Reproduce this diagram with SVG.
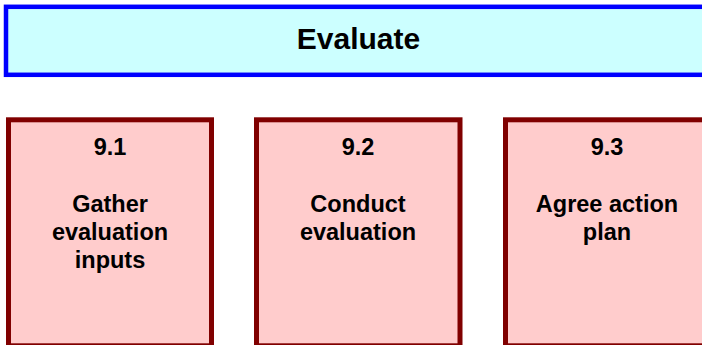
<svg xmlns="http://www.w3.org/2000/svg" width="702" height="345" viewBox="0 0 702 345">
<style>
.t{font-family:"Liberation Sans",Arial,sans-serif;font-weight:bold;fill:#000;text-anchor:middle}
.box{fill:#ffcccc;stroke:#800000;stroke-width:5}
.hd{fill:#ccffff;stroke:#0000ff;stroke-width:4.5}
</style>
<rect width="702" height="345" fill="#ffffff"/>
<g id="evaluate">
<rect class="hd" x="6" y="6.8" width="710" height="68"/>
<text class="t" x="358.5" y="49.3" font-size="30">Evaluate</text>
</g>
<g id="connectors"></g>
<g id="n91">
<rect class="box" x="8.5" y="119.8" width="203" height="226"/>
<text class="t" x="110" y="155" font-size="23.5">9.1</text>
<text class="t" x="110" font-size="23.5"><tspan x="110" y="212">Gather</tspan><tspan x="110" y="240">evaluation</tspan><tspan x="110" y="267.5">inputs</tspan></text>
</g>
<g id="n92">
<rect class="box" x="256.5" y="119.8" width="203.5" height="226"/>
<text class="t" x="358" y="155" font-size="23.5">9.2</text>
<text class="t" x="358" font-size="23.5"><tspan x="358" y="212">Conduct</tspan><tspan x="358" y="240">evaluation</tspan></text>
</g>
<g id="n93">
<rect class="box" x="505.5" y="119.8" width="203" height="226"/>
<text class="t" x="607" y="155" font-size="23.5">9.3</text>
<text class="t" x="607" font-size="23.5"><tspan x="607" y="212">Agree action</tspan><tspan x="607" y="240">plan</tspan></text>
</g>
</svg>
